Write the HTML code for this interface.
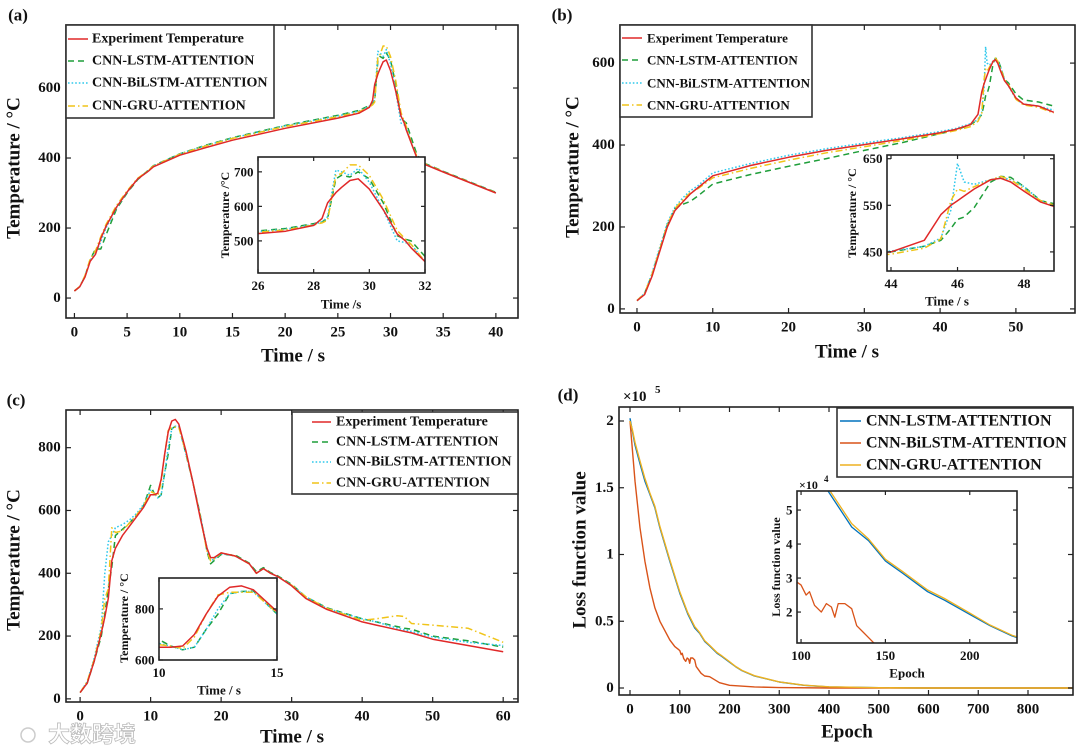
<!DOCTYPE html>
<html><head><meta charset="utf-8">
<style>
html,body{margin:0;padding:0;background:#fff;width:1080px;height:750px;overflow:hidden;}
svg{display:block;font-family:"Liberation Serif","Noto Serif CJK SC",serif;font-weight:bold;}
</style></head>
<body>
<svg id="fig" width="1080" height="750" viewBox="0 0 1080 750" xmlns="http://www.w3.org/2000/svg">
<defs>
<clipPath id="ca"><rect x="66" y="25" width="452" height="293"/></clipPath>
<clipPath id="cai"><rect x="258" y="157" width="167" height="116"/></clipPath>
<clipPath id="cb"><rect x="620" y="25" width="455" height="288"/></clipPath>
<clipPath id="cbi"><rect x="887" y="155" width="167" height="116"/></clipPath>
<clipPath id="cc"><rect x="66" y="410" width="452" height="292"/></clipPath>
<clipPath id="cci"><rect x="159" y="578" width="118" height="82"/></clipPath>
<clipPath id="cd"><rect x="619" y="407" width="454" height="288"/></clipPath>
<clipPath id="cdi"><rect x="797" y="491" width="220" height="152"/></clipPath>
</defs>
</svg>
<script>
// ---------- Panel (a) data ----------
const tA = [0,0.5,1,1.5,2,2.5,3,4,5,6,7,7.5,10,12.5,15,20,25,27,28,28.3,28.5,28.8,29,29.3,29.6,30,30.5,31,31.3,31.5,32,32.5,33,35,37.5,40];
const expA = [20,32,60,105,125,170,205,260,303,340,362,375,408,430,451,485,514,528,545,565,610,640,655,675,680,650,590,520,500,480,440,400,385,360,330,300];
const lstmA = [20,32,62,110,140,140,180,255,300,338,365,378,412,437,458,493,522,536,550,555,565,680,690,685,700,680,610,515,505,500,455,410,388,362,332,302];
const bilstmA = [20,32,62,108,130,160,200,258,302,340,362,377,412,436,457,492,520,534,548,555,570,705,700,690,710,670,590,500,495,490,440,402,386,361,331,301];
const gruA = [20,33,64,112,135,175,210,265,306,342,364,377,411,435,456,490,518,532,546,552,560,690,695,720,720,690,620,530,505,490,440,405,387,361,331,301];
const xTicksA = [0,5,10,15,20,25,30,35,40];
const yTicksA = [0,200,400,600];
const xTicksAi = [26,28,30,32];
const yTicksAi = [500,600,700];
// ---------- Panel (b) data ----------
const tB = [0,1,2,3,4,5,6,7,8,10,15,20,25,30,35,40,42,44,45,45.5,45.8,46,46.2,46.5,47,47.3,47.6,48,48.5,49,50,51,53,55];
const expB = [20,35,80,140,200,240,260,280,295,325,350,370,387,401,415,430,438,450,475,530,550,560,570,585,605,608,600,580,557,545,515,500,495,480];
const lstmB = [20,38,85,145,205,245,255,262,275,305,328,348,367,387,406,428,436,450,462,475,500,520,525,545,600,612,610,590,560,552,525,510,505,495];
const bilstmB = [20,38,88,150,210,248,270,288,300,332,355,375,391,405,418,433,440,452,462,480,540,640,600,595,605,610,605,590,560,545,512,500,495,485];
const gruB = [20,38,85,145,205,245,265,283,293,320,343,363,381,396,411,428,435,445,458,478,560,585,580,590,605,612,605,585,560,548,512,498,492,478];
const xTicksB = [0,10,20,30,40,50];
const yTicksB = [0,200,400,600];
const xTicksBi = [44,46,48];
const yTicksBi = [450,550,650];
// ---------- Panel (c) data ----------
const tC = [0,1,2,3,3.5,4,4.5,5,6,7,8,9,10,10.5,11,11.5,12,12.5,13,13.5,14,15,16,17,18,18.5,19,20,22,24,25,26,27,28,30,32,35,40,42,45,46,47,50,55,60];
const expC = [20,50,120,210,260,320,440,480,520,550,580,610,650,650,655,700,780,850,885,890,875,790,690,580,480,450,450,465,455,430,400,415,400,390,360,320,285,245,235,220,215,210,190,170,150];
const lstmC = [20,50,120,200,270,350,420,520,540,560,585,615,680,655,640,650,720,780,860,868,870,780,690,590,470,430,440,460,458,432,405,418,402,392,365,325,290,255,245,230,225,222,200,185,165];
const bilstmC = [20,55,130,230,400,500,520,545,555,570,590,620,665,655,640,650,720,800,860,868,868,780,690,590,480,440,445,462,455,430,400,415,400,390,362,325,288,255,245,225,220,215,197,180,170];
const gruC = [20,55,125,220,320,350,545,530,535,560,585,615,660,655,645,690,780,855,865,865,865,785,690,585,470,440,445,465,455,430,400,415,400,390,362,325,288,250,255,265,262,240,235,225,180];
const xTicksC = [0,10,20,30,40,50,60];
const yTicksC = [0,200,400,600,800];
const xTicksCi = [10,15];
const yTicksCi = [600,800];
// ---------- Panel (d) data (x1e5) ----------
const epochsD = [0,5,10,20,30,40,50,60,80,100,116,130,140,150,160,175,185,200,212,225,250,300,350,400,500,600,700,800,890];
const lstmD = [2.02,1.92,1.82,1.68,1.55,1.45,1.35,1.2,0.95,0.71,0.556,0.45,0.41,0.35,0.315,0.26,0.235,0.193,0.16,0.13,0.09,0.045,0.02,0.008,0.002,0,0,0,0];
const gruD = [2.0,1.93,1.84,1.7,1.57,1.46,1.36,1.21,0.96,0.72,0.565,0.46,0.415,0.355,0.32,0.265,0.24,0.197,0.162,0.132,0.092,0.046,0.021,0.009,0.002,0,0,0,0];
const epochsBi = [0,10,20,30,40,50,60,80,90,97,100,103,105,108,112,115,118,120,122,126,130,133,137,143,150,160,180,200,250,300,400,890];
const bilstmD = [2.0,1.55,1.2,0.95,0.75,0.6,0.5,0.36,0.31,0.29,0.28,0.25,0.26,0.22,0.2,0.225,0.215,0.185,0.225,0.225,0.21,0.16,0.14,0.11,0.09,0.085,0.04,0.02,0.008,0.003,0,0];
const xTicksD = [0,100,200,300,400,500,600,700,800];
const yTicksD = [0,0.5,1,1.5,2];
const yTickLabelsD = ["0","0.5","1","1.5","2"];
const xTicksDi = [100,150,200];
const yTicksDi = [0.2,0.3,0.4,0.5];
const yTickLabelsDi = ["2","3","4","5"];

const NS = "http://www.w3.org/2000/svg";
const svg = document.getElementById("fig");
function mk(tag, attrs, parent){ const e=document.createElementNS(NS,tag); for(const k in attrs) e.setAttribute(k,attrs[k]); (parent||svg).appendChild(e); return e; }
function txt(s, x, y, size, anchor, parent, rot){ const t=mk("text",{x:x,y:y,"font-size":size,"text-anchor":anchor||"middle","dominant-baseline":"central",fill:"#111"},parent); if(rot) t.setAttribute("transform","rotate(-90 "+x+" "+y+")"); t.textContent=s; return t; }
function scale(d0,d1,p0,p1){ return v => p0 + (v-d0)/(d1-d0)*(p1-p0); }

const COL = {exp:"#e02828", lstm:"#1f9e3a", bilstm:"#2fc8ec", gru:"#f0c419"};
const DASH = {exp:"none", lstm:"6,4", bilstm:"1.6,2", gru:"7,3,1.5,3"};

function axesBox(g, L,T,R,B, X, Y, xt, yt, fs, xlab, ylab, tickLen){
  mk("rect",{x:L,y:T,width:R-L,height:B-T,fill:"none",stroke:"#222","stroke-width":1.6},g);
  xt.forEach(v=>{ const px=X(v);
    mk("line",{x1:px,y1:B,x2:px,y2:B-tickLen,stroke:"#222","stroke-width":1.2},g);
    mk("line",{x1:px,y1:T,x2:px,y2:T+tickLen,stroke:"#222","stroke-width":1.2},g);
    txt(String(v),px,B+fs*0.95,fs,"middle",g);
  });
  yt.forEach((v,i)=>{ const py=Y(v);
    mk("line",{x1:L,y1:py,x2:L+tickLen,y2:py,stroke:"#222","stroke-width":1.2},g);
    mk("line",{x1:R,y1:py,x2:R-tickLen,y2:py,stroke:"#222","stroke-width":1.2},g);
    txt(ylab ? ylab[i] : String(v), L-fs*0.35, py, fs, "end", g);
  });
}
function series(g, ts, vs, X, Y, color, dash, clip, name, w){
  let d=""; ts.forEach((t,i)=>{ d+=(i?"L":"M")+X(t).toFixed(1)+","+Y(vs[i]).toFixed(1); });
  const p=mk("path",{d:d,fill:"none",stroke:color,"stroke-width":w||1.5,"stroke-dasharray":dash,"clip-path":"url(#"+clip+")","stroke-linejoin":"round"},g);
  
  
}
function legend(g, x,y,w,h, entries, lineX1, lineX2, textX, ys, fs){
  mk("rect",{x:x,y:y,width:w,height:h,fill:"#fff",stroke:"#333","stroke-width":1.6},g);
  entries.forEach((e,i)=>{
    const le=mk("g",{},g);
    
    
    mk("line",{x1:lineX1,y1:ys[i],x2:lineX2,y2:ys[i],stroke:e.color,"stroke-width":1.6,"stroke-dasharray":e.dash},le);
    txt(e.label,textX,ys[i],fs,"start",le);
  });
}
const tempEntries = [
  {key:"exp",label:"Experiment Temperature",color:COL.exp,dash:DASH.exp},
  {key:"lstm",label:"CNN-LSTM-ATTENTION",color:COL.lstm,dash:DASH.lstm},
  {key:"bilstm",label:"CNN-BiLSTM-ATTENTION",color:COL.bilstm,dash:DASH.bilstm},
  {key:"gru",label:"CNN-GRU-ATTENTION",color:COL.gru,dash:DASH.gru}
];
function tempPanel(id, box, xr, yr, t, sets, xt, yt, clip){
  const g=mk("g",{});  
  const [L,T,R,B]=box;
  const X=scale(xr[0],xr[1],L,R), Y=scale(yr[0],yr[1],B,T);
  mk("rect",{x:L,y:T,width:R-L,height:B-T,fill:"#fff"},g);
  ["lstm","bilstm","gru","exp"].forEach(k=>series(g,t,sets[k],X,Y,COL[k],DASH[k],clip,"series-"+k));
  axesBox(g,L,T,R,B,X,Y,xt,yt,15,null,null,5);
  return {g,X,Y};
}
function inset(g, box, xr, yr, t, sets, xt, yt, clip, keys, cols, dashes, ylabels, w){
  const ig=mk("g",{},g);  
  const [L,T,R,B]=box;
  const X=scale(xr[0],xr[1],L,R), Y=scale(yr[0],yr[1],B,T);
  mk("rect",{x:L,y:T,width:R-L,height:B-T,fill:"#fff"},ig);
  keys.forEach((k,i)=>series(ig,t[i],sets[i],X,Y,cols[i],dashes[i],clip,"inset-series-"+k,w));
  axesBox(ig,L,T,R,B,X,Y,xt,yt,13,null,ylabels,4);
  return ig;
}

// ===== Panel a =====
{
 const sets={exp:expA,lstm:lstmA,bilstm:bilstmA,gru:gruA};
 const p=tempPanel("a",[66,25,518,318],[-0.8,42.1],[-57,780],tA,sets,xTicksA,yTicksA,"ca");
 const lbl=txt("(a)",18,15,17,"middle",p.g); 
 txt("Temperature / °C",14,168,19,"middle",p.g,true);
 txt("Time / s",293,356,19,"middle",p.g);
 legend(p.g,66,25,208,93,tempEntries,68,88,92,[39,61,83,106],14);
 const ig=inset(p.g,[258,157,425,273],[26,32],[407,743],[tA,tA,tA,tA],[lstmA,bilstmA,gruA,expA],xTicksAi,yTicksAi,"cai",["lstm","bilstm","gru","exp"],[COL.lstm,COL.bilstm,COL.gru,COL.exp],[DASH.lstm,DASH.bilstm,DASH.gru,DASH.exp]);
 txt("Temperature /°C",225,215,12,"middle",ig,true);
 txt("Time /s",341,304,13,"middle",ig);
}
// ===== Panel b =====
{
 const sets={exp:expB,lstm:lstmB,bilstm:bilstmB,gru:gruB};
 const p=tempPanel("b",[620,25,1075,313],[-2.24,57.8],[-10,693],tB,sets,xTicksB,yTicksB,"cb");
 txt("(b)",562,15,17,"middle",p.g);
 txt("Temperature / °C",573,167,19,"middle",p.g,true);
 txt("Time / s",847,352,19,"middle",p.g);
 legend(p.g,620,25,192,92,tempEntries,622,642,647,[38,60,83,105],13);
 const ig=inset(p.g,[887,155,1054,271],[43.88,48.9],[409,658],[tB,tB,tB,tB],[lstmB,bilstmB,gruB,expB],xTicksBi,yTicksBi,"cbi",["lstm","bilstm","gru","exp"],[COL.lstm,COL.bilstm,COL.gru,COL.exp],[DASH.lstm,DASH.bilstm,DASH.gru,DASH.exp]);
 txt("Temperature / °C",852,213,12,"middle",ig,true);
 txt("Time / s",947,301,13,"middle",ig);
}
// ===== Panel c =====
{
 const sets={exp:expC,lstm:lstmC,bilstm:bilstmC,gru:gruC};
 const p=tempPanel("c",[66,410,518,702],[-2,62.1],[-10,920],tC,sets,xTicksC,yTicksC,"cc");
 txt("(c)",16,400,17,"middle",p.g);
 txt("Temperature / °C",14,560,19,"middle",p.g,true);
 txt("Time / s",292,737,19,"middle",p.g);
 legend(p.g,292,412,226,82,tempEntries,312,331,336,[422,442,462,483],14);
 const ig=inset(p.g,[159,578,277,660],[10,15],[600,921],[tC,tC,tC,tC],[lstmC,bilstmC,gruC,expC],xTicksCi,yTicksCi,"cci",["lstm","bilstm","gru","exp"],[COL.lstm,COL.bilstm,COL.gru,COL.exp],[DASH.lstm,DASH.bilstm,DASH.gru,DASH.exp]);
 txt("Temperature / °C",124,618,12,"middle",ig,true);
 txt("Time / s",219,690,13,"middle",ig);
 const wm=mk("text",{x:48,y:742,"font-size":22,fill:"#fff",stroke:"#bbb","stroke-width":0.8,"font-family":"\"Noto Sans CJK SC\",sans-serif"},p.g);
 wm.textContent="大数跨境";
 
 
 mk("circle",{cx:28,cy:735,r:7,fill:"none",stroke:"#ccc","stroke-width":1.5},p.g);
}
// ===== Panel d =====
{
 const g=mk("g",{});  
 const L=619,T=407,R=1073,B=695;
 const X=scale(0,800,630,1028), Y=scale(0,2,688,421);
 const C={lstm:"#0072BD",bilstm:"#D95319",gru:"#EDB120"};
 series(g,epochsD,lstmD,X,Y,C.lstm,"none","cd","series-lstm",1.4);
 series(g,epochsBi,bilstmD,X,Y,C.bilstm,"none","cd","series-bilstm",1.4);
 series(g,epochsD,gruD,X,Y,C.gru,"none","cd","series-gru",1.4);
 axesBox(g,L,T,R,B,X,Y,xTicksD,yTicksD,15,null,yTickLabelsD,5);
 txt("(d)",568,395,17,"middle",g);
 txt("×10",623,397,15,"start",g);
 txt("5",655,390,11,"start",g);
 txt("Loss function value",580,550,19,"middle",g,true);
 txt("Epoch",847,732,19,"middle",g);
 legend(g,837,408,236,69,[
   {key:"lstm",label:"CNN-LSTM-ATTENTION",color:C.lstm,dash:"none"},
   {key:"bilstm",label:"CNN-BiLSTM-ATTENTION",color:C.bilstm,dash:"none"},
   {key:"gru",label:"CNN-GRU-ATTENTION",color:C.gru,dash:"none"}],840,861,866,[421,443,465],16);
 const ig=inset(g,[797,491,1017,643],[97.6,228],[0.109,0.556],[epochsD,epochsBi,epochsD],[lstmD,bilstmD,gruD],xTicksDi,yTicksDi,"cdi",["lstm","bilstm","gru"],[C.lstm,C.bilstm,C.gru],["none","none","none"],yTickLabelsDi,1.3);
 txt("×10",799,485,12,"start",ig);
 txt("4",824,479,9,"start",ig);
 txt("Loss function value",776,567,12,"middle",ig,true);
 txt("Epoch",907,673,13,"middle",ig);
}
</script>
</body></html>
